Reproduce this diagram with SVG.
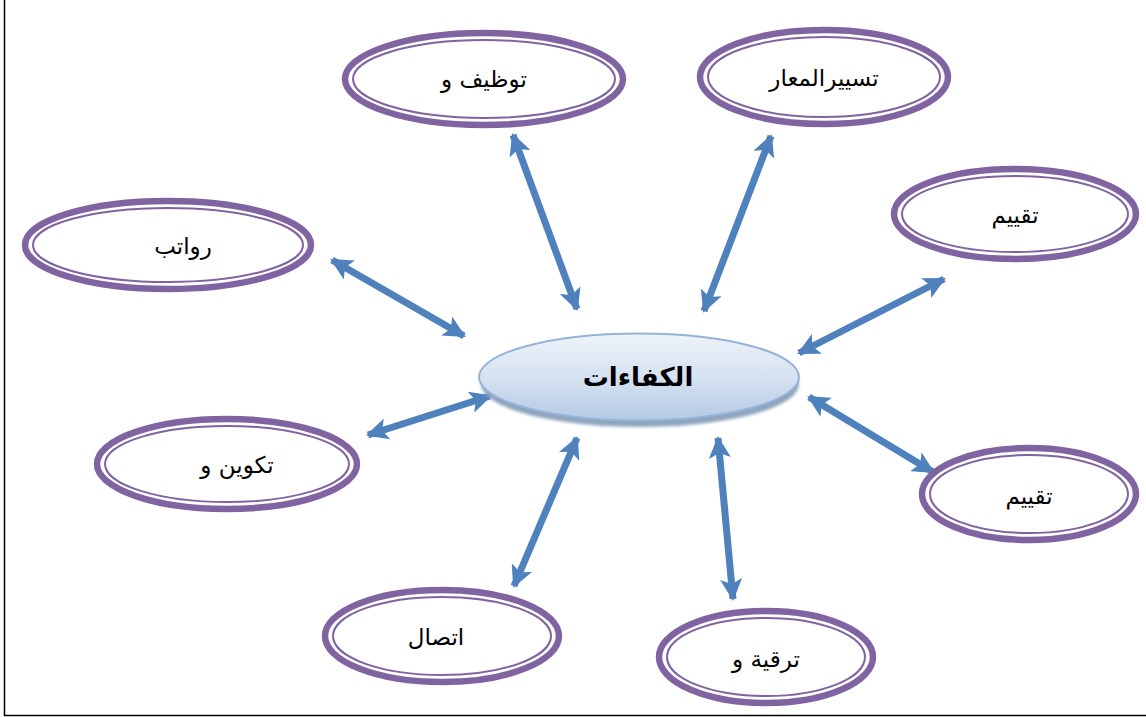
<svg xmlns="http://www.w3.org/2000/svg" width="1146" height="717" viewBox="0 0 1146 717">
  <style>
    .ring-outer { fill: #ffffff; stroke: #8064a2; stroke-width: 6.5; }
    .ring-inner { fill: none; stroke: #8064a2; stroke-width: 2; }
    .label { font-family: "DejaVu Sans", "Liberation Sans", sans-serif; font-size: 23px; fill: #000; text-anchor: middle; }
    .hub-label { font-family: "DejaVu Sans", "Liberation Sans", sans-serif; font-size: 26px; font-weight: bold; fill: #000; text-anchor: middle; }
    .link { stroke: #4f81bd; stroke-width: 7; fill: none; marker-start: url(#head); marker-end: url(#head); }
  </style>
  <defs>
    <linearGradient id="hubFill" x1="0" y1="0" x2="0" y2="1">
      <stop offset="0" stop-color="#eef3fa"/>
      <stop offset="0.5" stop-color="#d6e2f1"/>
      <stop offset="1" stop-color="#b3c9e4"/>
    </linearGradient>
    <filter id="soft" x="-10%" y="-20%" width="120%" height="140%">
      <feGaussianBlur stdDeviation="1.5"/>
    </filter>
    <marker id="head" markerUnits="userSpaceOnUse" viewBox="0 0 22 22" refX="20" refY="11" markerWidth="22" markerHeight="22" orient="auto-start-reverse">
      <path d="M0,0 L22,11 L0,22 L5,11 Z" fill="#4f81bd"/>
    </marker>
  </defs>

  <rect width="1146" height="717" fill="#ffffff"/>

  <!-- page frame -->
  <path d="M4.5,0 V715.5 H1146" fill="none" stroke="#000" stroke-width="1.5"/>

  <!-- connectors -->
  <g id="connectors">
    <line class="link" x1="332" y1="260" x2="464" y2="336"/>
    <line class="link" x1="513" y1="135" x2="577" y2="309"/>
    <line class="link" x1="771" y1="136" x2="704" y2="311"/>
    <line class="link" x1="944" y1="279" x2="799" y2="353"/>
    <line class="link" x1="368" y1="435" x2="490" y2="396"/>
    <line class="link" x1="809" y1="397" x2="933" y2="472"/>
    <line class="link" x1="577" y1="438" x2="514" y2="586"/>
    <line class="link" x1="718" y1="438" x2="733" y2="599"/>
  </g>

  <!-- central node -->
  <g id="hub">
    <ellipse cx="640" cy="384" rx="159" ry="43" fill="#8fa5be" filter="url(#soft)"/>
    <ellipse cx="639" cy="377" rx="160" ry="43.5" fill="url(#hubFill)" stroke="#95b3d7" stroke-width="2"/>
    <text class="hub-label" x="638" y="386">الكفاءات</text>
  </g>

  <g id="node-tawzif">
    <ellipse class="ring-outer" cx="484" cy="79" rx="139" ry="46"/>
    <ellipse class="ring-inner" cx="484" cy="79" rx="131" ry="39"/>
    <text class="label" x="484" y="87">توظيف و</text>
  </g>

  <g id="node-tasyir">
    <ellipse class="ring-outer" cx="824" cy="77" rx="124" ry="47"/>
    <ellipse class="ring-inner" cx="824" cy="77" rx="116" ry="40"/>
    <text class="label" x="824" y="86">تسييرالمعار</text>
  </g>

  <g id="node-rawatib">
    <ellipse class="ring-outer" cx="168" cy="245" rx="143" ry="44"/>
    <ellipse class="ring-inner" cx="168" cy="245" rx="135" ry="37"/>
    <text class="label" x="183" y="254">رواتب</text>
  </g>

  <g id="node-taqyim-1">
    <ellipse class="ring-outer" cx="1015" cy="214" rx="121" ry="45"/>
    <ellipse class="ring-inner" cx="1015" cy="214" rx="113" ry="38"/>
    <text class="label" x="1015" y="223">تقييم</text>
  </g>

  <g id="node-takwin">
    <ellipse class="ring-outer" cx="227" cy="464" rx="130" ry="45"/>
    <ellipse class="ring-inner" cx="227" cy="464" rx="122" ry="38"/>
    <text class="label" x="237" y="473">تكوين و</text>
  </g>

  <g id="node-taqyim-2">
    <ellipse class="ring-outer" cx="1029" cy="494" rx="107" ry="46"/>
    <ellipse class="ring-inner" cx="1029" cy="494" rx="99" ry="39"/>
    <text class="label" x="1029" y="504">تقييم</text>
  </g>

  <g id="node-ittisal">
    <ellipse class="ring-outer" cx="442" cy="636" rx="117" ry="46"/>
    <ellipse class="ring-inner" cx="442" cy="636" rx="109" ry="39"/>
    <text class="label" x="436" y="645">اتصال</text>
  </g>

  <g id="node-tarqiya">
    <ellipse class="ring-outer" cx="766" cy="657" rx="107" ry="46"/>
    <ellipse class="ring-inner" cx="766" cy="657" rx="99" ry="39"/>
    <text class="label" x="766" y="667">ترقية و</text>
  </g>
</svg>
